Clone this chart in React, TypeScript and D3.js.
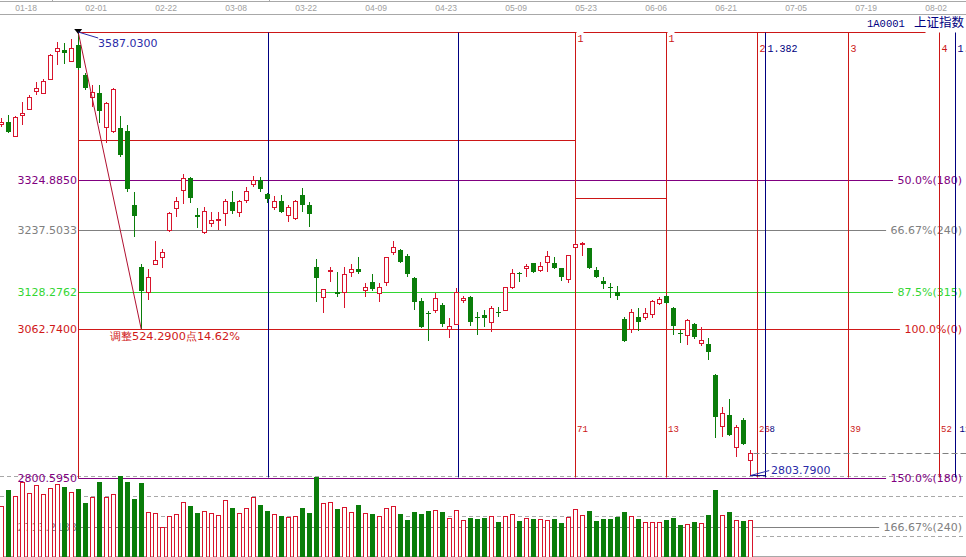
import * as d3 from "d3";

// ── Shanghai Composite daily bars (2018-01-12 … 2018-06-26) ─────────────
const OPEN = [
  3424.6, 3428.1, 3403.4, 3440.5, 3451.1, 3482.8, 3479.3, 3504.0, 3553.5, 3555.2,
  3535.8, 3564.1, 3511.1, 3472.3, 3479.3, 3419.3, 3412.2, 3417.5, 3412.2, 3281.6,
  3172.1, 3128.0, 3177.4, 3189.8, 3237.5, 3276.3, 3308.1, 3329.3, 3263.9, 3233.9,
  3249.8, 3255.1, 3267.5, 3286.9, 3269.2, 3290.4, 3318.7, 3325.7, 3301.0, 3278.1,
  3288.6, 3263.9, 3258.6, 3299.2, 3281.6, 3172.1, 3119.2, 3165.1, 3128.0, 3128.0,
  3163.3, 3168.6, 3131.5, 3145.7, 3126.2, 3145.7, 3198.6, 3202.1, 3191.6, 3152.7,
  3112.1, 3090.9, 3096.2, 3105.1, 3062.7, 3071.5, 3113.9, 3119.2, 3083.9, 3087.4,
  3075.0, 3092.7, 3096.2, 3136.8, 3161.6, 3170.4, 3179.2, 3166.8, 3181.0, 3179.2,
  3170.4, 3151.0, 3207.4, 3212.7, 3205.7, 3166.8, 3147.4, 3136.8, 3128.0, 3080.3,
  3062.7, 3083.9, 3083.9, 3089.2, 3108.6, 3120.9, 3099.8, 3055.6, 3052.1, 3071.5,
  3038.0, 3036.2, 2981.5, 2891.4, 2910.9, 2854.4, 2902.0, 2831.4,
];
const HIGH = [
  3435.2, 3440.5, 3438.7, 3463.4, 3475.8, 3498.7, 3504.0, 3548.2, 3569.4, 3567.6,
  3574.7, 3587.03, 3514.6, 3493.4, 3493.4, 3463.4, 3488.1, 3438.7, 3422.8, 3304.5,
  3177.4, 3168.6, 3218.0, 3203.9, 3269.2, 3295.7, 3336.3, 3331.0, 3276.3, 3278.1,
  3269.2, 3269.2, 3292.2, 3306.3, 3290.4, 3313.4, 3332.8, 3331.0, 3302.8, 3297.5,
  3299.2, 3281.6, 3290.4, 3311.6, 3286.9, 3186.3, 3134.0, 3172.1, 3163.3, 3172.1,
  3177.4, 3189.8, 3143.9, 3159.8, 3143.9, 3190.5, 3218.0, 3203.9, 3195.1, 3154.5,
  3117.4, 3094.5, 3126.2, 3108.6, 3082.1, 3135.1, 3120.9, 3120.5, 3092.7, 3096.2,
  3103.3, 3101.5, 3137.5, 3168.6, 3163.3, 3177.4, 3180.0, 3181.0, 3200.4, 3189.8,
  3171.0, 3193.3, 3214.5, 3215.5, 3206.5, 3172.1, 3154.5, 3143.9, 3138.6, 3083.9,
  3098.0, 3099.8, 3099.8, 3113.9, 3119.2, 3122.7, 3101.5, 3060.9, 3080.3, 3073.3,
  3066.2, 3046.8, 2983.2, 2925.0, 2939.1, 2893.2, 2905.6, 2849.1,
];
const LOW = [
  3419.3, 3408.7, 3401.6, 3422.8, 3449.3, 3475.8, 3477.5, 3502.3, 3528.7, 3530.5,
  3534.0, 3519.9, 3484.6, 3454.6, 3426.4, 3391.0, 3408.7, 3366.3, 3304.5, 3225.1,
  3062.74, 3113.9, 3175.7, 3170.4, 3233.9, 3260.4, 3283.4, 3285.1, 3241.0, 3230.4,
  3242.8, 3237.5, 3244.5, 3265.7, 3260.4, 3285.1, 3313.4, 3304.5, 3285.1, 3272.8,
  3267.5, 3251.6, 3255.1, 3269.2, 3242.8, 3110.3, 3090.9, 3145.7, 3119.2, 3099.8,
  3154.5, 3159.8, 3119.2, 3129.8, 3110.3, 3138.6, 3193.3, 3179.2, 3154.5, 3096.2,
  3064.4, 3041.5, 3090.9, 3066.2, 3046.8, 3069.7, 3108.6, 3068.0, 3052.1, 3066.2,
  3057.4, 3083.9, 3094.5, 3133.3, 3145.7, 3154.5, 3161.6, 3163.3, 3163.3, 3168.6,
  3147.4, 3143.9, 3205.7, 3191.6, 3168.6, 3152.7, 3133.3, 3117.4, 3113.9, 3039.7,
  3055.6, 3059.1, 3078.6, 3082.1, 3105.1, 3106.8, 3052.1, 3038.0, 3034.4, 3045.0,
  3032.7, 3008.0, 2870.3, 2872.0, 2873.8, 2836.7, 2857.9, 2803.79,
];
const CLOSE = [
  3428.1, 3410.5, 3436.9, 3444.0, 3472.3, 3488.1, 3500.5, 3546.4, 3558.8, 3549.9,
  3558.8, 3523.5, 3488.1, 3481.1, 3447.5, 3461.7, 3486.4, 3369.9, 3309.8, 3262.2,
  3129.8, 3154.5, 3184.5, 3198.6, 3267.5, 3288.6, 3329.3, 3294.0, 3260.4, 3271.0,
  3255.1, 3256.9, 3288.6, 3271.0, 3288.6, 3306.3, 3325.7, 3309.8, 3292.2, 3288.6,
  3269.2, 3278.1, 3288.6, 3281.6, 3265.7, 3152.7, 3133.3, 3166.8, 3124.5, 3159.8,
  3168.6, 3163.3, 3136.8, 3133.3, 3136.8, 3189.8, 3207.4, 3181.0, 3159.8, 3110.3,
  3066.2, 3089.2, 3117.4, 3071.5, 3068.0, 3128.0, 3117.4, 3075.0, 3082.1, 3082.1,
  3099.8, 3090.9, 3136.0, 3161.6, 3159.8, 3173.9, 3163.3, 3173.9, 3191.6, 3170.4,
  3154.5, 3192.5, 3212.7, 3214.3, 3170.4, 3154.5, 3142.1, 3135.1, 3120.9, 3041.5,
  3092.7, 3075.0, 3090.9, 3112.1, 3115.6, 3108.6, 3068.0, 3053.9, 3078.6, 3048.6,
  3043.3, 3022.1, 2907.3, 2914.4, 2875.6, 2889.7, 2859.7, 2843.8,
];
// turnover, 亿元
const VOLUME = [
  1530, 2010, 1830, 2250, 1920, 2160, 1890, 2070, 2190, 2100,
  1950, 2040, 1620, 1800, 2250, 1800, 1890, 2430, 2250, 1740,
  2220, 1350, 1320, 900, 1230, 1290, 1650, 1530, 1320, 1380,
  1320, 1260, 1710, 1470, 1320, 1470, 1800, 1560, 1380, 1290,
  1230, 1200, 1230, 1470, 1320, 2400, 1620, 1650, 1440, 1500,
  1350, 1560, 1320, 1290, 1230, 1470, 1530, 1290, 1110, 1350,
  1290, 1380, 1410, 1350, 1170, 1410, 1110, 1170, 1140, 1170,
  1230, 1050, 1230, 1290, 1080, 1170, 1140, 1140, 1110, 1140,
  1020, 1200, 1440, 1260, 1380, 1080, 1140, 1140, 1200, 1350,
  1230, 1140, 1050, 1050, 1050, 1110, 1170, 960, 990, 1050,
  1020, 1260, 2010, 1260, 1350, 1110, 1080, 1110,
];

const TICK_LABELS = ["01-18", "02-01", "02-22", "03-08", "03-22", "04-09", "04-23",
  "05-09", "05-23", "06-06", "06-21", "07-05", "07-19", "08-02"];
const TICK_BARS = [4, 14, 24, 34, 44, 54, 64, 74, 84, 94, 104, 114, 124, 134];

// Golden-section levels measured from the 3587.03 → 3062.74 swing
const FIB_PRICES = [3324.885, 3237.5033, 3128.2762, 3062.74, 2800.595, 2713.2133];
const FIB_LEFT = ["3324.8850", "3237.5033", "3128.2762", "3062.7400", "2800.5950", "2713.2133"];
const FIB_RIGHT = ["50.0%(180)", "66.67%(240)", "87.5%(315)", "100.0%(0)", "150.0%(180)", "166.67%(240)"];
const FIB_COLOR = ["#800080", "#808080", "#33d633", "#d01818", "#800080", "#808080"];

const PEAK_BAR = 11;
const PEAK_PRICE = 3587.03;
const TROUGH_BAR = 20;
const TROUGH_PRICE = 3062.74;
const LAST_LOW_PRICE = 2803.79;
const SWING_TEXT = "调整524.2900点14.62%";

// box tool edges
const BOX_PRICES = [3396.4, 3294.0];
const BOX_FROM = [11, 82];
const BOX_TO = [82, 95];

// time cycle (13-bar) and ratio lines
const CYCLE_BARS = [82, 95, 108, 121, 134];
const CYCLE_TOP = ["1", "1", "2", "3", "4"];
const CYCLE_BOTTOM = ["71", "13", "26", "39", "52"];
const RATIO_BARS = [38.1, 65.2, 109.1, 136.2];
const RATIO_TOP = ["", "", "1.382", "1.618"];
const RATIO_BOTTOM = ["", "", "8", "12"];

const RED = "#d8142c";
const LINE_RED = "#cc1616";
const GREEN = "#0a7d0a";
const NAVY = "#000080";
const BLUE_TXT = "#2a2aa8";
const FONT = "'DejaVu Sans', Verdana, sans-serif";
const MONO = "'Liberation Mono', 'DejaVu Sans Mono', monospace";

export default function App() {
  const W = 966;
  const H = 557;
  const x = d3.scaleLinear().domain([0, 137]).range([1.2, 960.2]);
  const y = d3.scaleLinear().domain([2800.595, 3587.03]).range([477.4, 32]);
  const vy = d3.scaleLinear().domain([0, 2400]).range([557, 477]);
  const px = (i: number) => Math.round(x(i)) + 0.5;
  const py = (p: number) => Math.round(y(p)) + 0.5;

  const lineLeft = px(PEAK_BAR);
  const topY = py(PEAK_PRICE);
  const bottomY = py(FIB_PRICES[4]);
  const lastBar = CLOSE.length - 1;

  return (
    <div style={{ position: "fixed", left: 0, top: 0 }}>
      <svg width={W} height={H} style={{ display: "block", background: "#fff" }} fontFamily={FONT}>
        {/* header strip */}
        <line x1={0} x2={W} y1={1.5} y2={1.5} stroke="#a8a8a8" />
        <line x1={0} x2={W} y1={14.5} y2={14.5} stroke="#a8a8a8" />
        {[52.5, 269.5].map((t) => (
          <line key={t} x1={t} x2={t} y1={0} y2={2} stroke="#a8a8a8" />
        ))}
        {TICK_LABELS.map((lab, k) => (
          <text key={lab} x={x(TICK_BARS[k]) - 3} y={11} fontSize={8.5} fill="#a0a0a0"
            textAnchor="middle" fontFamily="'Liberation Sans', Arial, sans-serif">{lab}</text>
        ))}
        <text x={867} y={27} fill={NAVY}>
          <tspan fontFamily={MONO} fontSize={10.5}>1A0001</tspan>
          <tspan x={914} fontFamily="'Noto Sans CJK SC', sans-serif" fontSize={12.5}>上证指数</tspan>
        </text>

        {/* volume pane grid */}
        {[476.5, 496.5, 516.5, 536.5].map((g) => (
          <line key={g} x1={0} x2={W} y1={g} y2={g} stroke="#a8a8a8" strokeDasharray="4,3" />
        ))}
        <line x1={0} x2={W} y1={556.5} y2={556.5} stroke="#a8a8a8" />

        {/* golden-section levels */}
        {FIB_PRICES.map((p, k) => {
          const yy = py(p) + (k === 4 ? 1 : 0);
          const endX = 962 - FIB_RIGHT[k].length * 6.9;
          return (
            <g key={p}>
              <line x1={lineLeft} x2={endX} y1={yy} y2={yy} stroke={FIB_COLOR[k]} />
              <text x={77} y={yy} dy="0.35em" textAnchor="end" fontSize={11} fill={FIB_COLOR[k]}>
                {FIB_LEFT[k]}
              </text>
              <text x={962} y={yy} dy="0.35em" textAnchor="end" fontSize={11} fill={FIB_COLOR[k]}>
                {FIB_RIGHT[k]}
              </text>
            </g>
          );
        })}

        {/* box tool */}
        <line x1={lineLeft} x2={px(132)} y1={topY} y2={topY} stroke={LINE_RED} />
        {BOX_PRICES.map((p, k) => (
          <line key={p} x1={px(BOX_FROM[k])} x2={px(BOX_TO[k])} y1={py(p)} y2={py(p)} stroke={LINE_RED} />
        ))}
        <line x1={lineLeft} x2={lineLeft} y1={topY} y2={bottomY + 1} stroke={LINE_RED} />

        {/* cycle lines */}
        {CYCLE_BARS.map((b, k) => {
          const xx = px(b);
          const first = k < 2;
          return (
            <g key={b}>
              <line x1={xx} x2={xx} y1={topY} y2={bottomY} stroke={LINE_RED} />
              {first && <rect x={xx + 1} y={topY - 1} width={7} height={12} fill="#fff" />}
              <text x={xx + 2} y={first ? 42 : 52} fontSize={10} fontFamily={MONO} fill={LINE_RED}>
                {CYCLE_TOP[k]}
              </text>
              <text x={xx + 1.5} y={432} fontSize={9} fontFamily={MONO} fill={LINE_RED}>
                {CYCLE_BOTTOM[k]}
              </text>
            </g>
          );
        })}
        {RATIO_BARS.map((b, k) => {
          const xx = px(b);
          return (
            <g key={b}>
              <line x1={xx} x2={xx} y1={topY} y2={bottomY} stroke={NAVY} />
              <text x={xx + 2} y={52} fontSize={10} fontFamily={MONO} fill={NAVY}>{RATIO_TOP[k]}</text>
              <text x={xx + 4} y={432} fontSize={9} fontFamily={MONO} fill={NAVY}>{RATIO_BOTTOM[k]}</text>
            </g>
          );
        })}

        {/* last close marker */}
        <line x1={px(lastBar) + 3} x2={W} y1={py(CLOSE[lastBar])} y2={py(CLOSE[lastBar])}
          stroke="#808080" strokeDasharray="6,3" />

        {/* volume */}
        {VOLUME.map((v, i) => {
          const up = CLOSE[i] >= OPEN[i];
          const cx = Math.round(x(i));
          const top = Math.round(vy(v));
          return up ? (
            <rect key={i} x={cx - 1.5} y={top + 0.5} width={4} height={H - top} fill="#fff" stroke={RED} />
          ) : (
            <rect key={i} x={cx - 2} y={top} width={5} height={H - top} fill={GREEN} />
          );
        })}

        {/* candles */}
        {OPEN.map((o, i) => {
          const c = CLOSE[i];
          const up = c >= o;
          const cx = Math.round(x(i));
          const yH = Math.round(y(HIGH[i]));
          const yL = Math.round(y(LOW[i]));
          const yT = Math.round(y(Math.max(o, c)));
          let yB = Math.round(y(Math.min(o, c)));
          if (yB - yT < 1) yB = yT + 1;
          if (up) {
            return (
              <g key={i} stroke={RED}>
                <line x1={cx + 0.5} x2={cx + 0.5} y1={yH} y2={yT} />
                <line x1={cx + 0.5} x2={cx + 0.5} y1={yB} y2={yL} />
                <rect x={cx - 1.5} y={yT + 0.5} width={4} height={yB - yT} fill="#fff" />
              </g>
            );
          }
          return (
            <g key={i}>
              <line x1={cx + 0.5} x2={cx + 0.5} y1={yH} y2={yL} stroke={GREEN} />
              <rect x={cx - 2} y={yT} width={5} height={Math.max(yB - yT, 1)} fill={GREEN} />
            </g>
          );
        })}

        {/* swing annotation */}
        <line x1={x(PEAK_BAR)} y1={y(PEAK_PRICE)} x2={x(TROUGH_BAR)} y2={y(TROUGH_PRICE)}
          stroke="#b01030" strokeWidth={1} />
        <path d={`M${x(PEAK_BAR) - 4},${y(PEAK_PRICE) - 3}h8l-4,5z`} fill="#000" />
        <line x1={x(PEAK_BAR)} y1={y(PEAK_PRICE)} x2={x(PEAK_BAR) + 20} y2={y(PEAK_PRICE) + 6} stroke={BLUE_TXT} />
        <text x={98} y={43} dy="0.35em" fontSize={11} fill={BLUE_TXT}>{PEAK_PRICE.toFixed(4)}</text>
        <text x={110} y={336} dy="0.35em" fontSize={11.3} fill="#d01818">{SWING_TEXT}</text>

        <line x1={x(lastBar)} y1={y(LAST_LOW_PRICE)} x2={x(lastBar) + 15} y2={y(LAST_LOW_PRICE)}
          stroke={NAVY} />
        <line x1={x(lastBar)} y1={y(LAST_LOW_PRICE)} x2={x(lastBar) + 19} y2={y(LAST_LOW_PRICE) - 5}
          stroke={BLUE_TXT} />
        <text x={771} y={470} dy="0.35em" fontSize={11} fill={BLUE_TXT}>{LAST_LOW_PRICE.toFixed(4)}</text>
      </svg>
    </div>
  );
}
